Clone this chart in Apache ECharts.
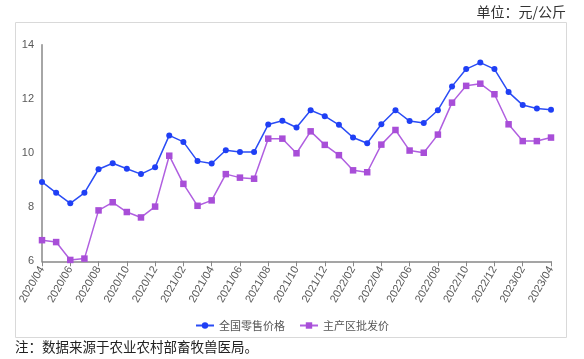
<!DOCTYPE html>
<html><head><meta charset="utf-8">
<script src="https://cdn.jsdelivr.net/npm/echarts@6/dist/echarts.min.js"></script>
<style>html,body{margin:0;padding:0;background:#fff}#c{width:584px;height:359px}</style>
</head><body><div id="c"></div>
<script>
const months = ['2020/04','2020/05','2020/06','2020/07','2020/08','2020/09','2020/10','2020/11','2020/12',
'2021/01','2021/02','2021/03','2021/04','2021/05','2021/06','2021/07','2021/08','2021/09','2021/10','2021/11','2021/12',
'2022/01','2022/02','2022/03','2022/04','2022/05','2022/06','2022/07','2022/08','2022/09','2022/10','2022/11','2022/12',
'2023/01','2023/02','2023/03','2023/04'];
const retail = [8.93,8.53,8.14,8.53,9.40,9.62,9.42,9.22,9.47,10.65,10.41,9.70,9.61,10.10,10.04,10.04,11.05,11.19,10.94,11.58,11.36,
11.04,10.57,10.36,11.06,11.58,11.18,11.11,11.58,12.46,13.10,13.34,13.10,12.25,11.77,11.64,11.60];
const wholesale = [6.78,6.71,6.05,6.10,7.88,8.18,7.82,7.62,8.02,9.90,8.86,8.05,8.25,9.22,9.09,9.05,10.53,10.53,9.99,10.80,10.30,
9.92,9.36,9.29,10.31,10.85,10.09,10.01,10.68,11.86,12.48,12.56,12.17,11.06,10.44,10.44,10.57];
const yTicks = [6,8,10,12,14];
const seriesNames = ['全国零售价格','主产区批发价'];
const unitText = '单位：元/公斤';
const noteText = '注：数据来源于农业农村部畜牧兽医局。';

const chart = echarts.init(document.getElementById('c'));
chart.setOption({
  animation:false,
  textStyle:{fontFamily:'"Noto Sans CJK SC", "Noto Sans", sans-serif'},
  graphic:[
    {type:'rect',shape:{x:15.5,y:22.5,width:551,height:315},style:{fill:'none',stroke:'#d9d9d9',lineWidth:1}},
    {type:'text',right:18,top:5,style:{text:unitText,fontSize:14,fill:'#333',fontFamily:'"Noto Sans CJK SC"'}},
    {type:'text',left:15,top:340,style:{text:noteText,fontSize:13.5,fill:'#222',fontFamily:'"Noto Sans CJK SC"'}}
  ],
  legend:{
    top:315,left:'center',itemWidth:18,itemHeight:8,itemGap:14,
    textStyle:{fontSize:11,color:'#555'},
    data:seriesNames
  },
  grid:{left:42,right:33,top:44.7,bottom:97.7,containLabel:false},
  xAxis:{
    type:'category',data:months,boundaryGap:false,
    axisLine:{lineStyle:{color:'#888',width:1.5}},
    axisTick:{show:true,interval:1,length:5,lineStyle:{color:'#888'}},
    axisLabel:{interval:1,rotate:60,fontSize:11,color:'#595959',margin:6,fontFamily:'"Liberation Sans", sans-serif'},
    splitLine:{show:false}
  },
  yAxis:{
    type:'value',min:6,max:14,interval:2,
    axisLine:{show:true,lineStyle:{color:'#888',width:1.5}},
    axisTick:{show:false},
    axisLabel:{fontSize:11,color:'#595959',margin:8,fontFamily:'"Liberation Sans", sans-serif',
      formatter:v=>yTicks.includes(v)?String(v):''},
    splitLine:{show:false}
  },
  series:[
    {name:seriesNames[0],type:'line',data:retail,symbol:'circle',symbolSize:6,
     lineStyle:{color:'#2a4cf5',width:1.5},itemStyle:{color:'#1f3ff5'}},
    {name:seriesNames[1],type:'line',data:wholesale,symbol:'rect',symbolSize:6.5,
     lineStyle:{color:'#b05fe0',width:1.5},itemStyle:{color:'#a84ed8'}}
  ]
});
</script></body></html>
